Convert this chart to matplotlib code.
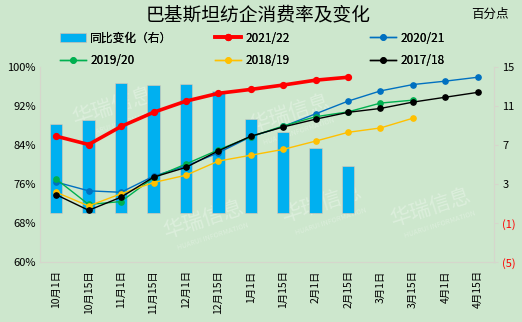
import matplotlib

matplotlib.use("Agg")
import matplotlib.pyplot as plt
import numpy as np

plt.rcParams["font.family"] = ["Noto Sans CJK SC", "DejaVu Sans"]
plt.rcParams["axes.unicode_minus"] = False

# 日期（横轴）
dates = ["10月1日", "10月15日", "11月1日", "11月15日", "12月1日", "12月15日",
         "1月1日", "1月15日", "2月1日", "2月15日", "3月1日", "3月15日",
         "4月1日", "4月15日"]

# 同比变化（百分点，右轴）
yoy_change = [9.2, 9.6, 13.4, 13.2, 13.3, 12.5, 9.7, 8.3, 6.7, 4.8]

# 各年度消费率（%，左轴）
s_2021 = [85.8, 84.1, 87.8, 90.7, 93.0, 94.6, 95.4, 96.3, 97.3, 97.9]
s_2020 = [76.4, 74.6, 74.3, 77.6, 79.7, 82.4, 85.7, 87.8, 90.4, 93.0,
          95.1, 96.4, 97.1, 97.9]
s_2019 = [77.0, 71.8, 72.4, 77.3, 80.1, 83.0, 85.7, 87.9, 89.8, 90.8,
          92.6, 93.2]
s_2018 = [74.3, 71.5, 74.0, 76.3, 77.8, 80.7, 81.9, 83.1, 84.8, 86.6,
          87.5, 89.5]
s_2017 = [73.8, 70.6, 73.3, 77.4, 79.4, 82.8, 85.8, 87.7, 89.3, 90.7,
          91.5, 92.8, 93.8, 94.8]

left_ticks = [60, 68, 76, 84, 92, 100]
right_ticks = [-5, -1, 3, 7, 11, 15]

BG = "#cde7cd"
EDGE = "#d6d6cc"

fig = plt.figure(figsize=(5.22, 3.22), dpi=100, facecolor=BG)
ax = fig.add_axes([40 / 522, 60 / 322, 454 / 522, 195 / 322])
ax.set_facecolor(BG)

x = np.arange(len(dates))

# watermark
for wx, wy in [(0.16, 0.80), (0.55, 0.76), (0.36, 0.22), (0.86, 0.28), (0.62, 0.30)]:
    ax.text(wx, wy, "华瑞信息", transform=ax.transAxes, rotation=18, fontsize=15,
            color="white", alpha=0.3, ha="center", va="center", zorder=0)
    ax.text(wx + 0.02, wy - 0.09, "HUARUI INFORMATION", transform=ax.transAxes,
            rotation=18, fontsize=5, color="white", alpha=0.3,
            ha="center", va="center", zorder=0)

# bars on the right-hand scale
bars = ax.bar(x[:len(yoy_change)], yoy_change, width=0.38, color="#00b0f0",
              edgecolor="#e8c9b0", linewidth=0.4, label="同比变化（右）", zorder=2)
ax.set_ylim(-5, 15)
ax.set_xlim(-0.5, len(dates) - 0.5)
ax.set_xticks(x)
ax.set_xticklabels(dates, rotation=90, fontsize=7.5)

# lines on the left-hand scale
axl = ax.twinx()
ax.yaxis.tick_right()
ax.yaxis.set_label_position("right")
axl.yaxis.tick_left()
axl.yaxis.set_label_position("left")

ax.set_yticks(right_ticks)
ax.set_yticklabels(["(5)", "(1)", "3", "7", "11", "15"])
for lbl, v in zip(ax.get_yticklabels(), right_ticks):
    lbl.set_color("#ff0000" if v < 0 else "black")

axl.set_ylim(60, 100)
axl.set_yticks(left_ticks)
axl.set_yticklabels([f"{t}%" for t in left_ticks])

series = [
    (s_2020, "#0070c0", "2020/21", 1.0, 3.8),
    (s_2019, "#00b050", "2019/20", 1.0, 3.8),
    (s_2018, "#ffc000", "2018/19", 1.0, 3.8),
    (s_2017, "#000000", "2017/18", 1.0, 3.8),
    (s_2021, "#ff0000", "2021/22", 2.6, 4.2),
]
lines = {}
for vals, color, name, lw, ms in series:
    (ln,) = axl.plot(x[:len(vals)], vals, color=color, linewidth=lw, marker="o",
                     markersize=ms, label=name)
    lines[name] = ln

for a in (ax, axl):
    a.spines["top"].set_visible(False)
    for side in ("left", "right", "bottom"):
        a.spines[side].set_color(EDGE)
        a.spines[side].set_linewidth(0.8)
    a.tick_params(axis="y", labelsize=8, length=3, color=EDGE, pad=3)
ax.tick_params(axis="x", length=0, pad=6)
axl.tick_params(axis="y", length=0)

# one legend per column so each column sits at its own x position
columns = [
    (60, [bars, lines["2019/20"]], ["同比变化（右）", "2019/20"]),
    (215, [lines["2021/22"], lines["2018/19"]], ["2021/22", "2018/19"]),
    (370, [lines["2020/21"], lines["2017/18"]], ["2020/21", "2017/18"]),
]
for px, hs, ls in columns:
    leg = fig.legend(hs, ls, loc="upper left", bbox_to_anchor=(px / 522, 0.902),
                     frameon=False, fontsize=8.5, handlelength=2.2, handletextpad=0.35,
                     labelspacing=0.8, borderaxespad=0, borderpad=0)
    fig.add_artist(leg)

fig.text(0.495, 0.953, "巴基斯坦纺企消费率及变化", ha="center", va="center",
         fontsize=13.5)
fig.text(0.939, 0.955, "百分点", ha="center", va="center", fontsize=9)

fig.savefig("out.png", dpi=100, facecolor=BG)
